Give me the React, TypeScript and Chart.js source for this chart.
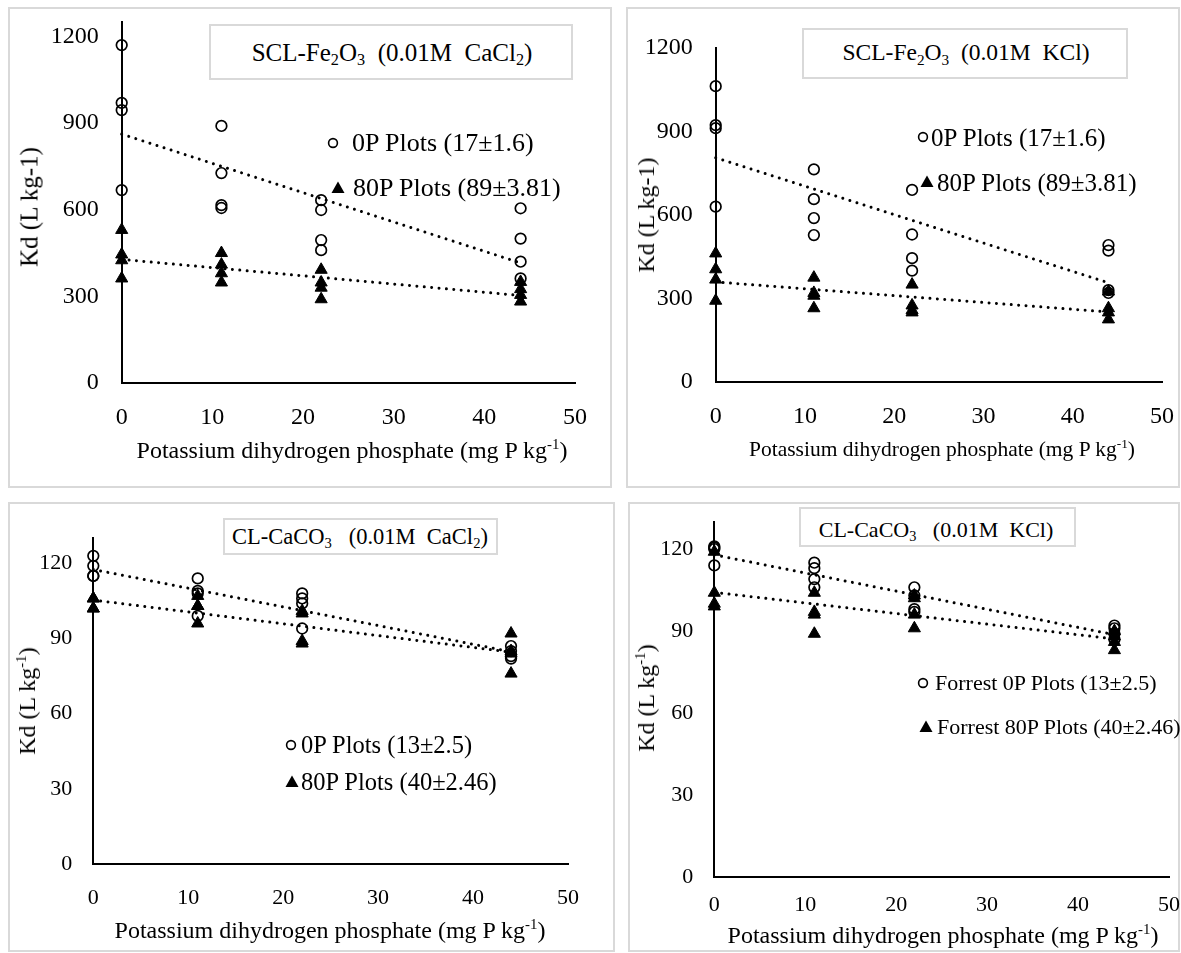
import React, { useEffect, useRef } from "react";
import { Chart, registerables } from "chart.js";

Chart.register(...registerables);

const FONT = "'Liberation Serif', 'Times New Roman', serif";

// ---------- data ----------
const doseX = [0, 0, 0, 0, 11, 11, 11, 11, 22, 22, 22, 22, 44, 44, 44, 44];
const xTickValues = [0, 10, 20, 30, 40, 50];
const yTicksFe = [0, 300, 600, 900, 1200];
const yTicksCa = [0, 30, 60, 90, 120];

// SCL-Fe2O3 (0.01M CaCl2)
const feCaCl2_0P = [1170, 970, 945, 668, 890, 727, 616, 606, 633, 599, 495, 460, 605, 500, 420, 362];
const feCaCl2_80P = [530, 445, 425, 362, 450, 410, 380, 348, 392, 348, 330, 290, 350, 325, 305, 282];
// SCL-Fe2O3 (0.01M KCl)
const feKCl_0P = [1063, 923, 912, 630, 764, 657, 589, 528, 690, 530, 445, 400, 492, 472, 330, 320];
const feKCl_80P = [462, 405, 368, 292, 375, 320, 310, 265, 350, 275, 258, 250, 325, 265, 250, 225];
// CL-CaCO3 (0.01M CaCl2)
const caCaCl2_0P = [123, 119, 115, 115, 114, 109, 108, 99, 108, 106, 104, 94, 87, 85, 83, 82];
const caCaCl2_80P = [106, 106, 102, 102, 107, 103, 103, 96, 101, 100, 89, 88, 92, 85, 84, 76];
// CL-CaCO3 (0.01M KCl)
const caKCl_0P = [121, 120.5, 120, 114, 115, 113, 109, 106, 106, 103, 98, 97, 92, 91, 89, 87];
const caKCl_80P = [119, 104, 100, 99, 104, 97, 96, 89, 103, 102, 96, 91, 90, 88, 86, 83];

const legendFe0 = "0P Plots (17\u00b11.6)";
const legendFe80 = "80P Plots (89\u00b13.81)";
const legendCa0 = "0P Plots (13\u00b12.5)";
const legendCa80 = "80P Plots (40\u00b12.46)";
const legendForrest0 = "Forrest 0P Plots (13\u00b12.5)";
const legendForrest80 = "Forrest 80P Plots (40\u00b12.46)";

// ---------- helpers ----------
function leastSquares(xs: number[], ys: number[]) {
  const n = xs.length;
  let sx = 0, sy = 0;
  for (let i = 0; i < n; i++) { sx += xs[i]; sy += ys[i]; }
  const mx = sx / n, my = sy / n;
  let sxy = 0, sxx = 0;
  for (let i = 0; i < n; i++) { sxy += (xs[i] - mx) * (ys[i] - my); sxx += (xs[i] - mx) * (xs[i] - mx); }
  const b = sxy / sxx;
  const a = my - b * mx;
  const x0 = Math.min(...xs), x1 = Math.max(...xs);
  return [{ x: x0, y: a + b * x0 }, { x: x1, y: a + b * x1 }];
}

const toPoints = (ys: number[]) => ys.map((y, i) => ({ x: doseX[i], y }));

const Sub = ({ children }: any) => (
  <span style={{ fontSize: "0.65em", verticalAlign: "-0.28em", lineHeight: 0 }}>{children}</span>
);
const Sup = ({ children }: any) => (
  <span style={{ fontSize: "0.62em", verticalAlign: "0.62em", lineHeight: 0 }}>{children}</span>
);

type Legend = { mx: number; my: number; tx: number; size: number; text: string };
type Panel = {
  frame: { x: number; y: number; w: number; h: number };
  area: { l: number; t: number; r: number; b: number };
  yMax: number;
  yTicks: number[];
  tickSize: number;
  yTickPad: number;
  xTickPad: number;
  s0: number[];
  s80: number[];
  titleBox: { x: number; y: number; w: number; h: number };
  titleCenter: { x: number; y: number; size: number };
  title: any;
  leg0: Legend;
  leg80: Legend;
  xTitle: { x: number; y: number; size: number };
  yTitle: { x: number; y: number; size: number; sup: boolean };
};

const panels: Panel[] = [
  {
    frame: { x: 8, y: 7, w: 604, h: 481 },
    area: { l: 121.7, t: 22, r: 575, b: 383 },
    yMax: 1250, yTicks: yTicksFe, tickSize: 24, yTickPad: 23, xTickPad: 20,
    s0: feCaCl2_0P, s80: feCaCl2_80P,
    titleBox: { x: 209, y: 24, w: 364, h: 56 },
    titleCenter: { x: 392, y: 52, size: 25 },
    title: <>SCL-Fe<Sub>2</Sub>O<Sub>3</Sub>{"  (0.01M  CaCl"}<Sub>2</Sub>)</>,
    leg0: { mx: 333, my: 143, tx: 352, size: 26, text: legendFe0 },
    leg80: { mx: 338, my: 188, tx: 353, size: 26, text: legendFe80 },
    xTitle: { x: 352, y: 450, size: 24 },
    yTitle: { x: 29, y: 207, size: 25, sup: false },
  },
  {
    frame: { x: 626, y: 7, w: 554, h: 481 },
    area: { l: 715.7, t: 48, r: 1162, b: 382 },
    yMax: 1200, yTicks: yTicksFe, tickSize: 24, yTickPad: 23, xTickPad: 20,
    s0: feKCl_0P, s80: feKCl_80P,
    titleBox: { x: 802, y: 28, w: 326, h: 51 },
    titleCenter: { x: 966, y: 53, size: 23.5 },
    title: <>SCL-Fe<Sub>2</Sub>O<Sub>3</Sub>{"  (0.01M  KCl)"}</>,
    leg0: { mx: 923, my: 137, tx: 931, size: 25, text: legendFe0 },
    leg80: { mx: 927, my: 182, tx: 937, size: 25, text: legendFe80 },
    xTitle: { x: 942, y: 450, size: 21.5 },
    yTitle: { x: 646, y: 215, size: 24, sup: false },
  },
  {
    frame: { x: 8, y: 502, w: 607, h: 450 },
    area: { l: 93.3, t: 538.3, r: 568, b: 864 },
    yMax: 130, yTicks: yTicksCa, tickSize: 22, yTickPad: 21, xTickPad: 21,
    s0: caCaCl2_0P, s80: caCaCl2_80P,
    titleBox: { x: 223, y: 518, w: 275, h: 37 },
    titleCenter: { x: 360, y: 537, size: 22.5 },
    title: <>CL-CaCO<Sub>3</Sub>{"   (0.01M  CaCl"}<Sub>2</Sub>)</>,
    leg0: { mx: 291, my: 745, tx: 301, size: 24.5, text: legendCa0 },
    leg80: { mx: 292, my: 782, tx: 301, size: 24.5, text: legendCa80 },
    xTitle: { x: 330, y: 930, size: 24 },
    yTitle: { x: 27, y: 701, size: 24, sup: true },
  },
  {
    frame: { x: 628, y: 502, w: 552, h: 450 },
    area: { l: 714.3, t: 521.7, r: 1169, b: 877 },
    yMax: 130, yTicks: yTicksCa, tickSize: 22, yTickPad: 21, xTickPad: 15,
    s0: caKCl_0P, s80: caKCl_80P,
    titleBox: { x: 799, y: 507, w: 277, h: 40 },
    titleCenter: { x: 936, y: 530, size: 22 },
    title: <>CL-CaCO<Sub>3</Sub>{"   (0.01M  KCl)"}</>,
    leg0: { mx: 923, my: 683, tx: 935, size: 22, text: legendForrest0 },
    leg80: { mx: 926, my: 727, tx: 937, size: 22, text: legendForrest80 },
    xTitle: { x: 943, y: 935, size: 24 },
    yTitle: { x: 646, y: 698, size: 24, sup: true },
  },
];

const Y_AXIS_W = 80;
const X_AXIS_H = 60;
const EXTRA_RIGHT = 30;
const EXTRA_TOP = 50;

function PanelChart({ p }: { p: Panel }) {
  const ref = useRef<HTMLCanvasElement | null>(null);
  const cx = p.frame.x;
  const cy = p.frame.y - EXTRA_TOP;
  const cw = p.frame.w + EXTRA_RIGHT;
  const ch = p.frame.h + EXTRA_TOP;
  useEffect(() => {
    if (!ref.current) return;
    const padding = {
      left: p.area.l - cx - Y_AXIS_W,
      top: p.area.t - cy,
      right: cx + cw - p.area.r,
      bottom: cy + ch - p.area.b - X_AXIS_H,
    };
    const dotted = {
      showLine: true,
      pointRadius: 0,
      pointHoverRadius: 0,
      borderColor: "#000",
      borderWidth: 3,
      borderDash: [0.01, 7.4],
      borderCapStyle: "round",
      clip: false,
    };
    const chart = new Chart(ref.current, {
      type: "scatter",
      data: {
        datasets: [
          { ...dotted, data: leastSquares(doseX, p.s0) },
          { ...dotted, data: leastSquares(doseX, p.s80) },
          {
            data: toPoints(p.s0),
            pointStyle: "circle",
            pointRadius: 5.3,
            pointHoverRadius: 5.3,
            pointBorderWidth: 1.7,
            pointBorderColor: "#000",
            pointBackgroundColor: "rgba(255,255,255,0)",
            clip: false,
          },
          {
            data: toPoints(p.s80),
            pointStyle: "triangle",
            pointRadius: 7,
            pointHoverRadius: 7,
            pointBorderWidth: 1,
            pointBorderColor: "#000",
            pointBackgroundColor: "#000",
            clip: false,
          },
        ] as any,
      },
      options: {
        animation: false,
        responsive: false,
        maintainAspectRatio: false,
        devicePixelRatio: 1,
        layout: { padding },
        plugins: { legend: { display: false }, tooltip: { enabled: false }, title: { display: false } },
        events: [],
        scales: {
          x: {
            type: "linear",
            min: 0,
            max: 50,
            afterBuildTicks: (s: any) => { s.ticks = xTickValues.map((v) => ({ value: v })); },
            afterFit: (s: any) => { s.height = X_AXIS_H; },
            grid: { display: false, drawTicks: false },
            border: { display: true, color: "#000", width: 2 },
            ticks: {
              color: "#000",
              padding: p.xTickPad,
              maxRotation: 0,
              autoSkip: false,
              font: { family: FONT, size: p.tickSize },
              callback: (v: any) => String(v),
            },
          },
          y: {
            type: "linear",
            min: 0,
            max: p.yMax,
            afterBuildTicks: (s: any) => { s.ticks = p.yTicks.map((v) => ({ value: v })); },
            afterFit: (s: any) => { s.width = Y_AXIS_W; },
            grid: { display: false, drawTicks: false },
            border: { display: true, color: "#000", width: 2 },
            ticks: {
              color: "#000",
              padding: p.yTickPad,
              autoSkip: false,
              font: { family: FONT, size: p.tickSize },
              callback: (v: any) => String(v),
            },
          },
        },
      } as any,
    });
    return () => chart.destroy();
  }, [p]);
  return (
    <canvas
      ref={ref}
      width={cw}
      height={ch}
      style={{ position: "absolute", left: cx, top: cy, width: cw, height: ch }}
    />
  );
}

function LegendRow({ l, kind }: { l: Legend; kind: "circle" | "triangle" }) {
  return (
    <>
      <svg
        width={16}
        height={16}
        style={{ position: "absolute", left: l.mx - 8, top: l.my - 8, overflow: "visible" }}
      >
        {kind === "circle" ? (
          <circle cx={8} cy={8} r={4.4} fill="none" stroke="#000" strokeWidth={1.6} />
        ) : (
          <polygon points="8,1.5 14.5,13 1.5,13" fill="#000" />
        )}
      </svg>
      <div
        style={{
          position: "absolute",
          left: l.tx,
          top: l.my,
          transform: "translateY(-50%)",
          fontFamily: FONT,
          fontSize: l.size,
          lineHeight: 1,
          whiteSpace: "pre",
          color: "#000",
        }}
      >
        {l.text}
      </div>
    </>
  );
}

function Overlay({ p }: { p: Panel }) {
  return (
    <>
      <div
        style={{
          position: "absolute",
          left: p.titleBox.x,
          top: p.titleBox.y,
          width: p.titleBox.w,
          height: p.titleBox.h,
          boxSizing: "border-box",
          border: "2px solid #d9d9d9",
          background: "#fff",
        }}
      />
      <div
        style={{
          position: "absolute",
          left: p.titleCenter.x,
          top: p.titleCenter.y,
          transform: "translate(-50%, -50%)",
          fontFamily: FONT,
          fontSize: p.titleCenter.size,
          lineHeight: 1,
          whiteSpace: "pre",
          color: "#000",
        }}
      >
        {p.title}
      </div>
      <LegendRow l={p.leg0} kind="circle" />
      <LegendRow l={p.leg80} kind="triangle" />
      <div
        style={{
          position: "absolute",
          left: p.xTitle.x,
          top: p.xTitle.y,
          transform: "translate(-50%, -50%)",
          fontFamily: FONT,
          fontSize: p.xTitle.size,
          lineHeight: 1,
          whiteSpace: "pre",
          color: "#000",
        }}
      >
        Potassium dihydrogen phosphate (mg P kg<Sup>-1</Sup>)
      </div>
      <div
        style={{
          position: "absolute",
          left: p.yTitle.x,
          top: p.yTitle.y,
          transform: "translate(-50%, -50%) rotate(-90deg)",
          fontFamily: FONT,
          fontSize: p.yTitle.size,
          lineHeight: 1,
          whiteSpace: "pre",
          color: "#000",
        }}
      >
        {p.yTitle.sup ? <>Kd (L kg<Sup>-1</Sup>)</> : "Kd (L kg-1)"}
      </div>
    </>
  );
}

export default function App() {
  return (
    <div
      style={{
        position: "absolute",
        left: 0,
        top: 0,
        width: 1181,
        height: 953,
        overflow: "hidden",
        background: "#fff",
      }}
    >
      {panels.map((p, i) => (
        <div
          key={"f" + i}
          style={{
            position: "absolute",
            left: p.frame.x,
            top: p.frame.y,
            width: p.frame.w,
            height: p.frame.h,
            boxSizing: "border-box",
            border: "2px solid #d9d9d9",
          }}
        />
      ))}
      {panels.map((p, i) => (
        <PanelChart key={"c" + i} p={p} />
      ))}
      {panels.map((p, i) => (
        <Overlay key={"o" + i} p={p} />
      ))}
    </div>
  );
}
